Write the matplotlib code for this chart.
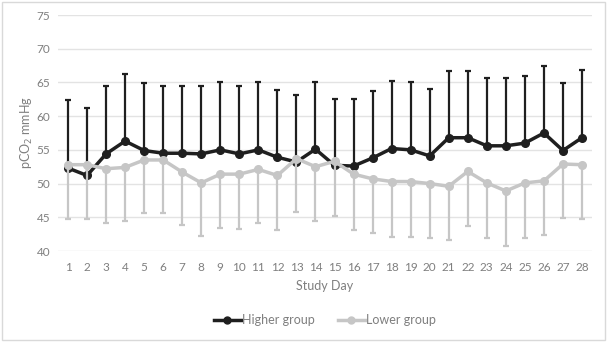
import matplotlib.pyplot as plt
from matplotlib.lines import Line2D
import numpy as np

plt.rcParams['font.family'] = ['Lato', 'DejaVu Sans']

days = list(range(1, 29))

higher_mean = [52.3, 51.2, 54.4, 56.3, 54.9, 54.5, 54.5, 54.4, 55.0, 54.4,
               55.0, 53.9, 53.2, 55.1, 52.7, 52.6, 53.8, 55.2, 55.0, 54.1,
               56.8, 56.8, 55.6, 55.6, 56.0, 57.5, 54.9, 56.8]
higher_upper = [62.4, 61.2, 64.4, 66.3, 64.9, 64.5, 64.5, 64.4, 65.0, 64.4,
                65.0, 63.9, 63.1, 65.0, 62.6, 62.5, 63.8, 65.2, 65.0, 64.0,
                66.7, 66.7, 65.7, 65.6, 66.0, 67.4, 64.9, 66.8]

lower_mean = [52.8, 52.8, 52.2, 52.4, 53.5, 53.5, 51.7, 50.1, 51.4, 51.4,
              52.1, 51.2, 53.7, 52.5, 53.3, 51.4, 50.7, 50.3, 50.3, 50.0,
              49.6, 51.8, 50.1, 48.9, 50.1, 50.4, 52.9, 52.8]
lower_lower = [44.7, 44.7, 44.2, 44.5, 45.6, 45.6, 43.8, 42.2, 43.4, 43.3,
               44.1, 43.1, 45.8, 44.5, 45.2, 43.1, 42.7, 42.1, 42.1, 41.9,
               41.6, 43.7, 42.0, 40.8, 42.0, 42.3, 44.9, 44.8]

hi_err = np.array(higher_upper) - np.array(higher_mean)
lo_err = np.array(lower_mean) - np.array(lower_lower)

text_col = '#7f7f7f'
black = '#1f1f1f'
gray = '#c6c6c6'

fig = plt.figure(figsize=(6.09, 3.43), dpi=100)
ax = fig.add_axes([58.5 / 609, 1 - 251 / 343, 533 / 609, 236 / 343])

ax.errorbar(days, higher_mean, yerr=[np.zeros(28), hi_err], color=black,
            lw=2.5, marker='o', ms=5.5, elinewidth=1.6, capsize=2.5,
            capthick=1.6, zorder=3)
ax.errorbar(days, lower_mean, yerr=[lo_err, np.zeros(28)], color=gray,
            lw=2.5, marker='o', ms=5.5, elinewidth=1.6, capsize=2.5,
            capthick=1.6, zorder=4)

ax.set_xlim(0.5, 28.5)
ax.set_ylim(40, 75)
ax.set_yticks(np.arange(40, 76, 5))
ax.set_xticks(days)
ax.grid(axis='y', color='#e3e3e3', lw=1)
ax.set_axisbelow(True)
for s in ax.spines.values():
    s.set_visible(False)
ax.tick_params(length=0, labelsize=8.5, colors=text_col, pad=8)
ax.tick_params(axis='y', pad=6)

ax.set_xlabel('Study Day', fontsize=9, color=text_col, labelpad=5)
ax.set_ylabel('pCO$_2$ mmHg', fontsize=9, color=text_col, labelpad=1)

handles = [Line2D([], [], color=black, lw=2.5, marker='o', ms=5),
           Line2D([], [], color=gray, lw=2.5, marker='o', ms=5)]
ax.legend(handles, ['Higher group', 'Lower group'], loc='upper center',
          bbox_to_anchor=(0.5, -0.22), ncol=2, frameon=False, fontsize=9,
          labelcolor=text_col, handlelength=2.2, handletextpad=0.1,
          columnspacing=1.8)

fig.patches.append(plt.Rectangle((0.003, 0.01), 0.99, 0.985,
                                 transform=fig.transFigure, fill=False,
                                 edgecolor='#d9d9d9', lw=1))

plt.savefig('out.png', dpi=100)
